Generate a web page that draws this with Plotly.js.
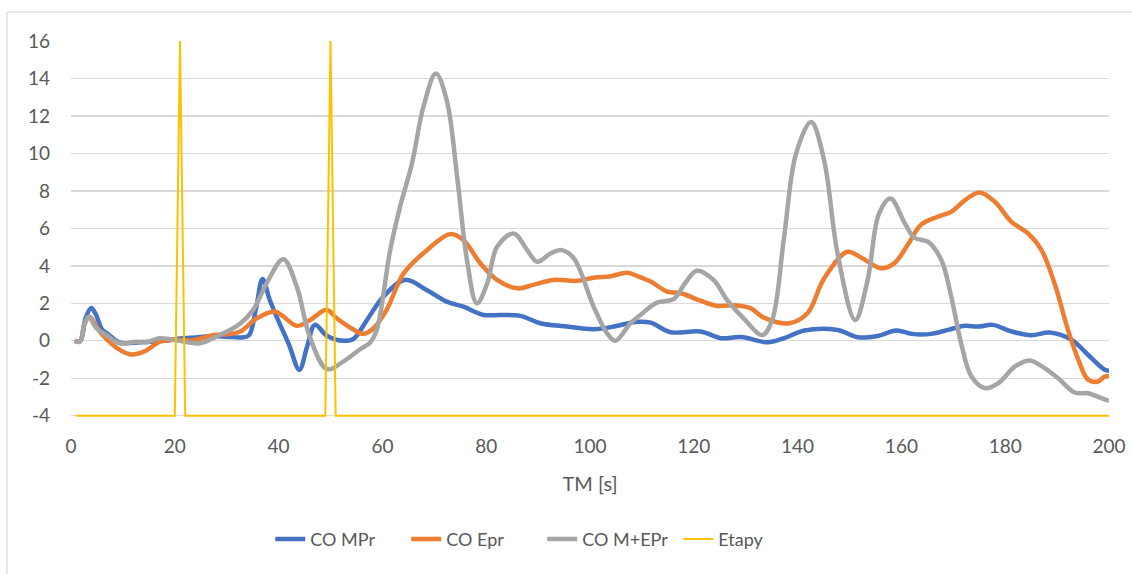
<!DOCTYPE html>
<html>
<head>
<meta charset="utf-8">
<script src="https://cdn.plot.ly/plotly-3.0.1.min.js"></script>
<style>html,body{margin:0;padding:0;background:#fff;}#chart{width:1132px;height:574px;}</style>
</head>
<body>
<div id="chart"></div>
<script>
// CO MPr (blue)
const mprX = [0.7,1.8,2.8,3.9,4.8,6,7.4,9.4,12,15,18,21,24,27,30,33,34.3,35.7,36.9,38.3,39.9,42,44,45.5,47,49.3,52.5,54.5,57,60.2,64.4,68.6,72.4,75.6,79.5,82.7,86.6,90.4,95.6,100.7,104.6,107.8,109.5,111.7,115.5,121.3,125.2,129.1,134.2,137.4,141.3,147.7,151.6,155.4,159,162,165.7,169,172.2,174.8,177.6,181.2,185,188.6,192.8,196,199.2,200];
const mprY = [0,0,1.2,1.75,1.4,0.6,0.3,-0.1,-0.1,-0.05,0,0.12,0.18,0.25,0.22,0.18,0.3,1.8,3.3,2.18,1.1,-0.2,-1.55,-0.3,0.85,0.27,0.0,0.12,1.1,2.36,3.25,2.7,2.09,1.82,1.38,1.38,1.33,0.94,0.76,0.62,0.76,0.97,1.02,0.97,0.46,0.5,0.14,0.2,-0.08,0.14,0.55,0.58,0.19,0.26,0.55,0.37,0.37,0.58,0.8,0.76,0.85,0.5,0.3,0.44,0.05,-0.76,-1.55,-1.6];

// CO Epr (orange)
const eprX = [0.7,1.8,2.6,3.6,4.8,6.1,8.1,9.8,11.3,13,14.5,17.1,19.6,23.5,27.4,30,32.5,35.8,39.3,40.9,43.5,46,49.3,51.2,54.4,56.3,58.3,60.8,64.1,68.6,73.1,75.6,78.9,82.1,86,89.2,93,97.5,100.7,104,107.2,109.2,111.7,114.9,117.5,121.3,124.5,127.7,130.9,133.5,138.4,141.9,145.1,149.6,152.2,156.1,158.6,161.2,163.8,167,169.6,172.2,175.1,178,181.2,184.4,187,189.5,192.1,194.1,196,197.9,199.2,200];
const eprY = [0,0,0.9,1.29,0.8,0.31,-0.22,-0.55,-0.72,-0.68,-0.52,-0.05,0.05,0.03,0.3,0.35,0.48,1.2,1.56,1.3,0.8,1.1,1.65,1.2,0.6,0.37,0.67,1.65,3.6,4.84,5.7,5.38,4.13,3.25,2.8,3.0,3.25,3.2,3.37,3.45,3.63,3.45,3.16,2.62,2.54,2.14,1.86,1.9,1.74,1.24,0.94,1.47,3.33,4.75,4.45,3.87,4.13,5.11,6.2,6.62,6.88,7.5,7.92,7.42,6.35,5.73,4.84,3.07,0.58,-1.02,-2.08,-2.17,-1.9,-1.9];

// CO M+EPr (gray)
const mepX = [0.7,1.7,2.5,3.4,4.9,6.8,9.4,12.6,14.5,17.1,21,24.8,28.7,32.5,35.1,37.7,40.9,43.5,46,49.3,52.5,55.7,57.6,58.9,61.5,63.4,65.7,67.9,70.3,72.4,74.4,76.3,78.2,80.2,82.1,85.3,87.9,89.8,92.4,94.6,96.9,100.7,103.3,104.9,107.8,109.7,112.9,116.1,118.3,120.6,123.8,126.4,129.6,133.2,135.1,137.4,139.7,142.6,145.1,147.7,151.1,153.5,155.7,157.9,160.6,162.5,165.1,167.7,169.6,171.5,173.5,176.1,178.7,181.9,184.7,187.6,190.2,193.4,196,198.5,200];
const mepY = [0,-0.05,0.8,1.29,0.67,0.31,-0.13,-0.05,-0.08,0.14,0.0,-0.13,0.31,0.9,1.65,3.07,4.35,2.89,0.22,-1.51,-1.1,-0.45,-0.1,0.58,4.84,7.15,9.46,12.48,14.26,12.83,8.75,4.31,2.0,3.07,5.02,5.73,4.84,4.22,4.66,4.84,4.4,1.82,0.4,0.0,0.94,1.38,2.04,2.22,3.07,3.74,3.25,2.18,1.2,0.31,1.11,5.55,9.99,11.68,9.64,4.66,1.11,3.25,6.8,7.6,6.3,5.5,5.29,4.31,2.36,-0.13,-1.91,-2.53,-2.26,-1.37,-1.05,-1.46,-2.0,-2.76,-2.8,-3.06,-3.2];

// Etapy (yellow)
const etX = [1,20,21,22,49,50,51,200];
const etY = [-4,-4,16,-4,-4,16,-4,-4];

const xTicks = [0,20,40,60,80,100,120,140,160,180,200];
const yTicks = [-4,-2,0,2,4,6,8,10,12,14,16];

const font = "Lato, 'Liberation Sans', sans-serif";
const traces = [
  {x: mprX, y: mprY, name: 'CO MPr', mode: 'lines', line: {color: '#4472C4', width: 4.5, shape: 'spline', smoothing: 1}},
  {x: eprX, y: eprY, name: 'CO Epr', mode: 'lines', line: {color: '#ED7D31', width: 4.5, shape: 'spline', smoothing: 1}},
  {x: mepX, y: mepY, name: 'CO M+EPr', mode: 'lines', line: {color: '#A5A5A5', width: 4.5, shape: 'spline', smoothing: 1}},
  {x: etX, y: etY, name: 'Etapy', mode: 'lines', line: {color: '#FFC000', width: 2}}
];

// plot: y=16 at 41px, y=-4 at 416px (18.75 px/unit); range extended 0.12 below so the -4 line is not clipped
const layout = {
  width: 1132, height: 574,
  margin: {l: 71, r: 23, t: 41, b: 155.75},
  paper_bgcolor: '#fff', plot_bgcolor: '#fff',
  font: {family: font, size: 19, color: '#595959'},
  showlegend: true,
  legend: {orientation: 'h', x: 0.454, xanchor: 'center', y: -0.322, yanchor: 'middle',
           font: {family: font, size: 18, color: '#595959'}, itemwidth: 30, entrywidth: 91, tracegroupgap: 0},
  xaxis: {range: [0, 200], tickvals: xTicks, ticktext: xTicks.map(String), showgrid: false, zeroline: false,
          showline: false, ticks: '', ticklabelstandoff: 15,
          title: {text: 'TM [s]', font: {family: font, size: 20, color: '#595959'}, standoff: 20}},
  yaxis: {range: [-4.12, 16], tickvals: yTicks, ticktext: yTicks.map(String), showgrid: true, gridcolor: '#d9d9d9', gridwidth: 1.3,
          zeroline: false, showline: false, ticks: '', ticklabelstandoff: 20},
  shapes: [
    {type: 'line', xref: 'paper', yref: 'paper', x0: -0.0617, x1: 1.03, y0: 1.0766, y1: 1.0766, line: {color: '#d9d9d9', width: 1.3}},
    {type: 'line', xref: 'paper', yref: 'paper', x0: -0.0617, x1: -0.0617, y0: 1.0766, y1: -0.43, line: {color: '#d9d9d9', width: 1.3}}
  ]
};

Plotly.newPlot('chart', traces, layout, {displayModeBar: false, staticPlot: true});
</script>
</body>
</html>
